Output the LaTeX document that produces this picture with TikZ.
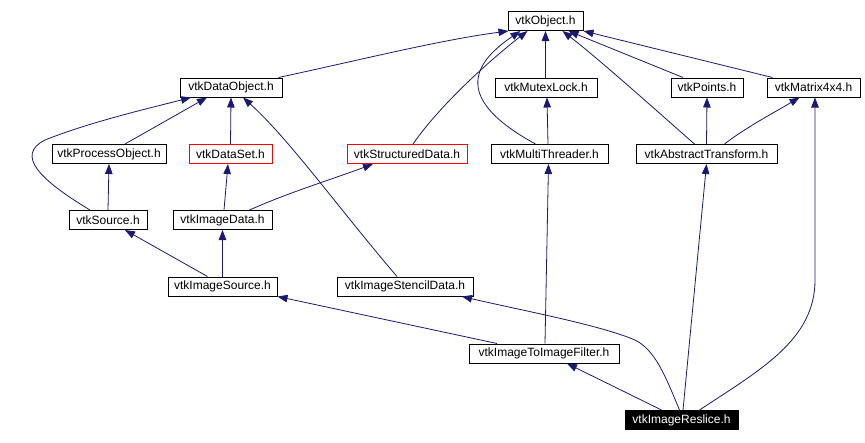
\documentclass[tikz,border=0pt]{standalone}
\usepackage{fontspec}
\setmainfont{Liberation Sans}
\usetikzlibrary{arrows.meta}
\definecolor{edgeblue}{HTML}{191970}
\begin{document}
\begin{tikzpicture}[x=1pt,y=-1pt,
  box/.style={draw=black, line width=1pt, minimum height=19pt, inner sep=0pt, font=\fontsize{12}{13}\selectfont},
  redbox/.style={box, draw=red},
  blackbox/.style={box, fill=black, text=white},
  edge/.style={draw=edgeblue, line width=0.8pt, -{Triangle[length=10pt,width=7.5pt]}}]
\useasboundingbox (0,0) rectangle (865,442);
% nodes
\node[box, minimum width=75pt] (obj) at (545.5,21) {vtkObject.h};
\node[box, minimum width=102pt] (dobj) at (231,87.5) {vtkDataObject.h};
\node[box, minimum width=102pt] (mutex) at (546,87.5) {vtkMutexLock.h};
\node[box, minimum width=72pt] (points) at (707,87.5) {vtkPoints.h};
\node[box, minimum width=93pt] (matrix) at (813.5,87.5) {vtkMatrix4x4.h};
\node[box, minimum width=114pt] (procobj) at (109,154) {vtkProcessObject.h};
\node[redbox, minimum width=83pt] (dataset) at (230.5,154) {vtkDataSet.h};
\node[redbox, minimum width=120pt] (structdata) at (407,154) {vtkStructuredData.h};
\node[box, minimum width=117pt] (multith) at (549.5,154) {vtkMultiThreader.h};
\node[box, minimum width=141pt] (abstr) at (706.5,154) {vtkAbstractTransform.h};
\node[box, minimum width=78pt] (source) at (108,220) {vtkSource.h};
\node[box, minimum width=99pt] (imgdata) at (222.5,220) {vtkImageData.h};
\node[box, minimum width=109pt] (imgsrc) at (222.5,286.5) {vtkImageSource.h};
\node[box, minimum width=136pt] (stencil) at (405,286.5) {vtkImageStencilData.h};
\node[box, minimum width=150pt] (filter) at (544,353.5) {vtkImageToImageFilter.h};
\node[blackbox, minimum width=113pt] (reslice) at (681.5,420) {vtkImageReslice.h};
% edges
\draw[edge] ([xshift=-4pt]dobj.north east) .. controls (360,60) and (440,40) .. ([xshift=1pt]obj.south west);
\draw[edge] ([xshift=6pt]structdata.north) .. controls (440,105) and (490,60) .. ([xshift=-18pt]obj.south);
\draw[edge] ([xshift=-14pt]multith.north) .. controls (455,100) and (470,65) .. ([xshift=-25pt]obj.south);
\draw[edge] ([xshift=-0.5pt]mutex.north) -- (obj.south);
\draw[edge] ([xshift=-12pt]abstr.north) .. controls (650,105) and (600,60) .. ([xshift=17pt]obj.south);
\draw[edge] ([xshift=-24pt]points.north) -- ([xshift=23pt]obj.south);
\draw[edge] ([xshift=-41pt]matrix.north) -- (obj.south east);
\draw[edge] ([xshift=16pt]procobj.north) -- ([xshift=-24pt]dobj.south);
\draw[edge] ([xshift=-18pt]source.north) .. controls (40,180) and (15,155) .. (45,140) .. controls (90,122) and (150,108) .. ([xshift=-40pt]dobj.south);
\draw[edge] (dataset.north) -- (dobj.south);
\draw[edge] ([xshift=-8pt]stencil.north) .. controls (340,210) and (290,140) .. ([xshift=12pt]dobj.south);
\draw[edge] (source.north) -- (procobj.south);
\draw[edge] ([xshift=1.5pt]imgdata.north) -- ([xshift=-2.5pt]dataset.south);
\draw[edge] ([xshift=27pt]imgdata.north) .. controls (290,192) and (330,180) .. ([xshift=-34pt]structdata.south);
\draw[edge] ([xshift=-15pt]imgsrc.north) -- ([xshift=17pt]source.south);
\draw[edge] (imgsrc.north) -- (imgdata.south);
\draw[edge] ([xshift=-1.5pt]multith.north) -- ([xshift=1pt]mutex.south);
\draw[edge] (abstr.north) -- (points.south);
\draw[edge] ([xshift=18pt]abstr.north) .. controls (745,128) and (775,112) .. ([xshift=-14pt]matrix.south);
\draw[edge] ([xshift=-47pt]filter.north) -- (imgsrc.south east);
\draw[edge] ([xshift=1pt]filter.north) -- ([xshift=-1pt]multith.south);
\draw[edge] ([xshift=-20pt]reslice.north) -- ([xshift=23pt]filter.south);
\draw[edge] ([xshift=-2pt]reslice.north) .. controls (665,375) and (655,350) .. (635,340) .. controls (600,325) and (520,310) .. ([xshift=57pt]stencil.south);
\draw[edge] ([xshift=1.5pt]reslice.north) -- (abstr.south);
\draw[edge] ([xshift=18pt]reslice.north) .. controls (760,370) and (815,340) .. (815,280) -- ([xshift=1.5pt]matrix.south);
\end{tikzpicture}
\end{document}
